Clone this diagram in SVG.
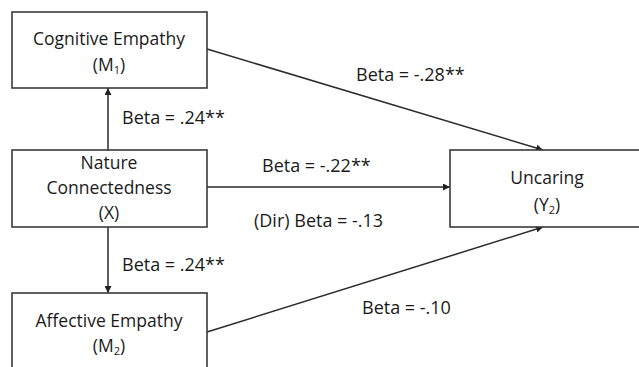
<svg xmlns="http://www.w3.org/2000/svg" width="639" height="367" viewBox="0 0 639 367">
<defs>
<marker id="ah" viewBox="0 0 10 10" refX="10" refY="5" markerWidth="7" markerHeight="7" markerUnits="userSpaceOnUse" orient="auto">
<path d="M0,0 L10,5 L0,10 z" fill="#222"/>
</marker>
<style>
.box{fill:#fff;stroke:#3a3a3a;stroke-width:1.6}
.t{font-family:"Open Sans","Liberation Sans",sans-serif;font-size:17.5px;fill:#1a1a1a;text-anchor:middle}
.l{font-family:"Open Sans","Liberation Sans",sans-serif;font-size:18px;fill:#1a1a1a}
.c{stroke:#2a2a2a;stroke-width:1.5;fill:none;marker-end:url(#ah)}
.sub{font-size:11px}
</style>
</defs>
<rect width="639" height="367" fill="#fff"/>
<g id="connectors">
<line class="c" x1="108" y1="150" x2="108" y2="88"/>
<line class="c" x1="108" y1="227" x2="108" y2="293"/>
<line class="c" x1="207" y1="187" x2="450" y2="187"/>
<line class="c" x1="207" y1="49" x2="543" y2="150"/>
<line class="c" x1="207" y1="332" x2="543" y2="227"/>
</g>
<g id="m1">
<rect class="box" x="12" y="12" width="195" height="76"/>
<text class="t" x="109" y="45">Cognitive Empathy</text>
<text class="t" x="109" y="71">(M<tspan class="sub" dy="3">1</tspan><tspan dy="-3">)</tspan></text>
</g>
<g id="x">
<rect class="box" x="12" y="150" width="195" height="77"/>
<text class="t" x="109" y="169">Nature</text>
<text class="t" x="109" y="194">Connectedness</text>
<text class="t" x="109" y="219">(X)</text>
</g>
<g id="m2">
<rect class="box" x="12" y="293" width="195" height="90"/>
<text class="t" x="109" y="327">Affective Empathy</text>
<text class="t" x="109" y="352">(M<tspan class="sub" dy="3">2</tspan><tspan dy="-3">)</tspan></text>
</g>
<g id="y">
<rect class="box" x="450" y="150" width="200" height="77"/>
<text class="t" x="547" y="184">Uncaring</text>
<text class="t" x="547" y="211">(Y<tspan class="sub" dy="3">2</tspan><tspan dy="-3">)</tspan></text>
</g>
<g id="labels">
<text class="l" x="122" y="124">Beta = .24**</text>
<text class="l" x="122" y="271">Beta = .24**</text>
<text class="l" x="356" y="81">Beta = -.28**</text>
<text class="l" x="262" y="172">Beta = -.22**</text>
<text class="l" x="254" y="227">(Dir) Beta = -.13</text>
<text class="l" x="362" y="314">Beta = -.10</text>
</g>
</svg>
